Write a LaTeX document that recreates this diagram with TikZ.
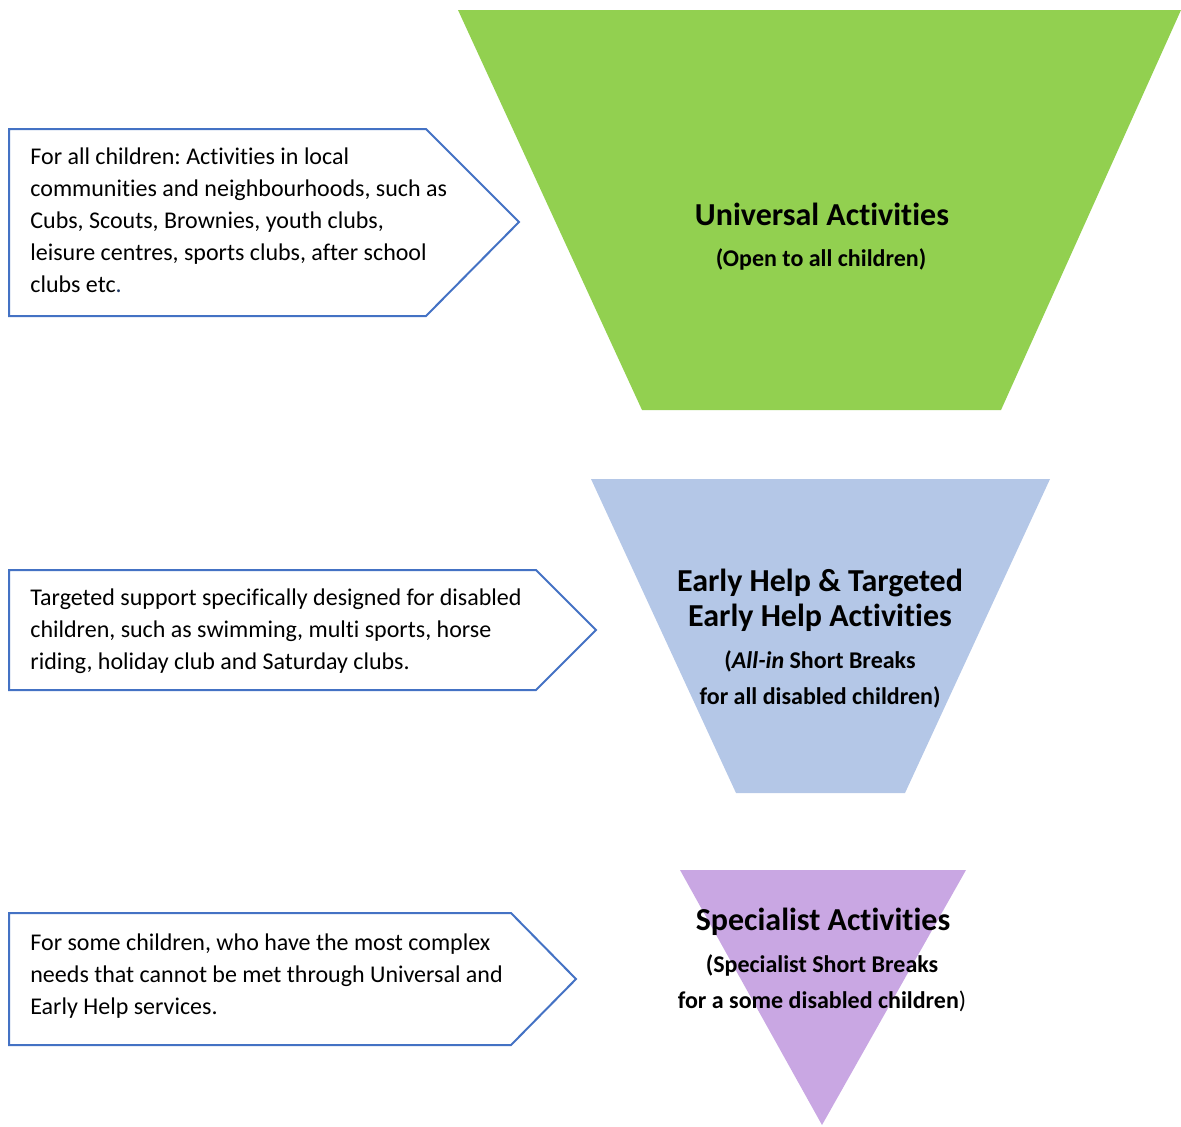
\documentclass[tikz,border=0pt]{standalone}
\usepackage{fontspec}
\setmainfont{Carlito}[Ligatures=NoCommon]
\frenchspacing
\definecolor{uniGreen}{HTML}{92D050}
\definecolor{helpBlue}{HTML}{B4C7E7}
\definecolor{specPurple}{HTML}{C9A7E3}
\definecolor{boxLine}{HTML}{4472C4}
\definecolor{dotBlue}{HTML}{1F3864}
\tikzset{
  callout/.style={draw=boxLine, line width=1pt, fill=white, line join=miter},
  body/.style={anchor=west, inner sep=0pt, align=left, font=\fontsize{12}{16}\selectfont},
  title/.style={inner sep=0pt, align=center, font=\bfseries\fontsize{16}{17.5}\selectfont},
  sub/.style={inner sep=0pt, align=center, font=\bfseries\fontsize{12}{18}\selectfont}
}
\begin{document}
\begin{tikzpicture}[x=0.5pt, y=-0.5pt]
    \useasboundingbox (0,0) rectangle (1181,1126);
    % L1: Universal activities
    \fill[uniGreen] (458,10) -- (1181,10) -- (1001,410) -- (642,410) -- cycle;
    \draw[callout] (9,129) -- (426,129) -- (519,222) -- (426,316) -- (9,316) -- cycle;
    \node[body] (all) at (30,220) {For all children: Activities in local\\communities and neighbourhoods, such as\\Cubs, Scouts, Brownies, youth clubs,\\leisure centres, sports clubs, after school\\clubs etc\textcolor{dotBlue}{.}};
    \node[title] (uni) at (822,214) {Universal Activities};
    \node[sub] (unisub) at (821,259) {(Open to all children)};
    % L2: Early help
    \fill[helpBlue] (591,479) -- (1050,479) -- (905,793) -- (736,793) -- cycle;
    \draw[callout] (9,570) -- (536,570) -- (596,630) -- (536,690) -- (9,690) -- cycle;
    \node[body] (tgt) at (30,631) {Targeted support specifically designed for disabled\\children, such as swimming, multi sports, horse\\riding, holiday club and Saturday clubs.};
    \node[title] (help) at (820,600) {Early Help \& Targeted\\Early Help Activities};
    \node[sub] (helpsub) at (820,679) {(\textit{All-in} Short Breaks\\for all disabled children)};
    % L3: Specialist
    \fill[specPurple] (680,870) -- (966,870) -- (822,1125) -- cycle;
    \draw[callout] (9,913) -- (511,913) -- (576,979) -- (511,1045) -- (9,1045) -- cycle;
    \node[body] (some) at (30,976) {For some children, who have the most complex\\needs that cannot be met through Universal and\\Early Help services.};
    \node[title] (spec) at (823,922) {Specialist Activities};
    \node[sub] (specsub) at (822,983) {(Specialist Short Breaks\\for a some disabled children\mdseries)};
\end{tikzpicture}
\end{document}
